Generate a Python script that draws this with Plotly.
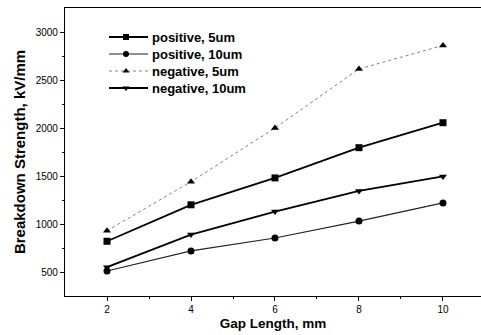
import plotly.graph_objects as go

# Gap length (mm) and breakdown strength (kV/mm) for each polarity / thickness
gap_mm = [2, 4, 6, 8, 10]
pos_5um = [820, 1200, 1480, 1795, 2055]
pos_10um = [510, 720, 855, 1030, 1220]
neg_5um = [930, 1440, 2000, 2615, 2860]
neg_10um = [550, 890, 1130, 1345, 1495]

series_names = ["positive, 5um", "positive, 10um", "negative, 5um", "negative, 10um"]
series_values = [pos_5um, pos_10um, neg_5um, neg_10um]
symbols = ["square", "circle", "triangle-up", "triangle-down"]
line_styles = [
    dict(color="black", width=1.8),
    dict(color="#222222", width=1.1),
    dict(color="#808080", width=1, dash="dot"),
    dict(color="black", width=1.8),
]

bold_font = "Liberation Sans, Arial, sans-serif"
tick_font = dict(family="Liberation Sans Narrow, Liberation Sans, Arial", size=10, color="black")

# plot area in page pixels
L, R, T, B = 65, 481, 8, 296

fig = go.Figure()
for name, vals, sym, line in zip(series_names, series_values, symbols, line_styles):
    fig.add_trace(go.Scatter(
        x=gap_mm, y=vals, name=name, mode="lines+markers",
        line=line, marker=dict(symbol=sym, size=7, color="black"),
        showlegend=False,
    ))

# Compact key drawn on an overlay axis measured in page pixels
key_x0, key_x1, key_mx, key_tx = 109, 148, 126, 150
key_y0, key_dy = 37, 17
for i, (name, sym, line) in enumerate(zip(series_names, symbols, line_styles)):
    ky = key_y0 + i * key_dy
    fig.add_trace(go.Scatter(
        x=[key_x0, key_x1], y=[ky, ky], mode="lines", line=line,
        xaxis="x2", yaxis="y2", showlegend=False, hoverinfo="skip",
    ))
    fig.add_trace(go.Scatter(
        x=[key_mx], y=[ky], mode="markers+text",
        marker=dict(symbol=sym, size=6, color="black"),
        xaxis="x2", yaxis="y2", showlegend=False, hoverinfo="skip",
    ))
    fig.add_annotation(
        x=key_tx, y=ky, xref="x2", yref="y2", text=f"<b>{name}</b>",
        showarrow=False, xanchor="left", yanchor="middle",
        font=dict(family=bold_font, size=13, color="black"),
    )

fig.update_layout(
    width=481, height=335,
    margin=dict(l=L, r=481 - R, t=T, b=335 - B),
    paper_bgcolor="white", plot_bgcolor="white",
    showlegend=False,
    xaxis=dict(
        range=[1, 10.905], tickvals=[2, 4, 6, 8, 10],
        showgrid=False, zeroline=False,
        showline=True, linecolor="black", linewidth=1.2, mirror=True,
        ticks="outside", ticklen=4, tickcolor="black",
        minor=dict(tickvals=[3, 5, 7, 9], ticks="outside", ticklen=2, tickcolor="black"),
        tickfont=tick_font,
        title=dict(text="<b>Gap Length, mm</b>", font=dict(family=bold_font, size=13.5, color="black"), standoff=4),
    ),
    yaxis=dict(
        range=[250, 3250], tickvals=[500, 1000, 1500, 2000, 2500, 3000],
        showgrid=False, zeroline=False,
        showline=True, linecolor="black", linewidth=1.2,
        ticks="outside", ticklen=4, tickcolor="black",
        minor=dict(tickvals=[750, 1250, 1750, 2250, 2750], ticks="outside", ticklen=2, tickcolor="black"),
        tickfont=tick_font,
        title=dict(text="<b>Breakdown Strength, kV/mm</b>", font=dict(family=bold_font, size=15, color="black"), standoff=6),
    ),
    xaxis2=dict(range=[L, R], overlaying="x", visible=False, fixedrange=True),
    yaxis2=dict(range=[B, T], overlaying="y", visible=False, fixedrange=True),
)

fig.write_html("out.html")
